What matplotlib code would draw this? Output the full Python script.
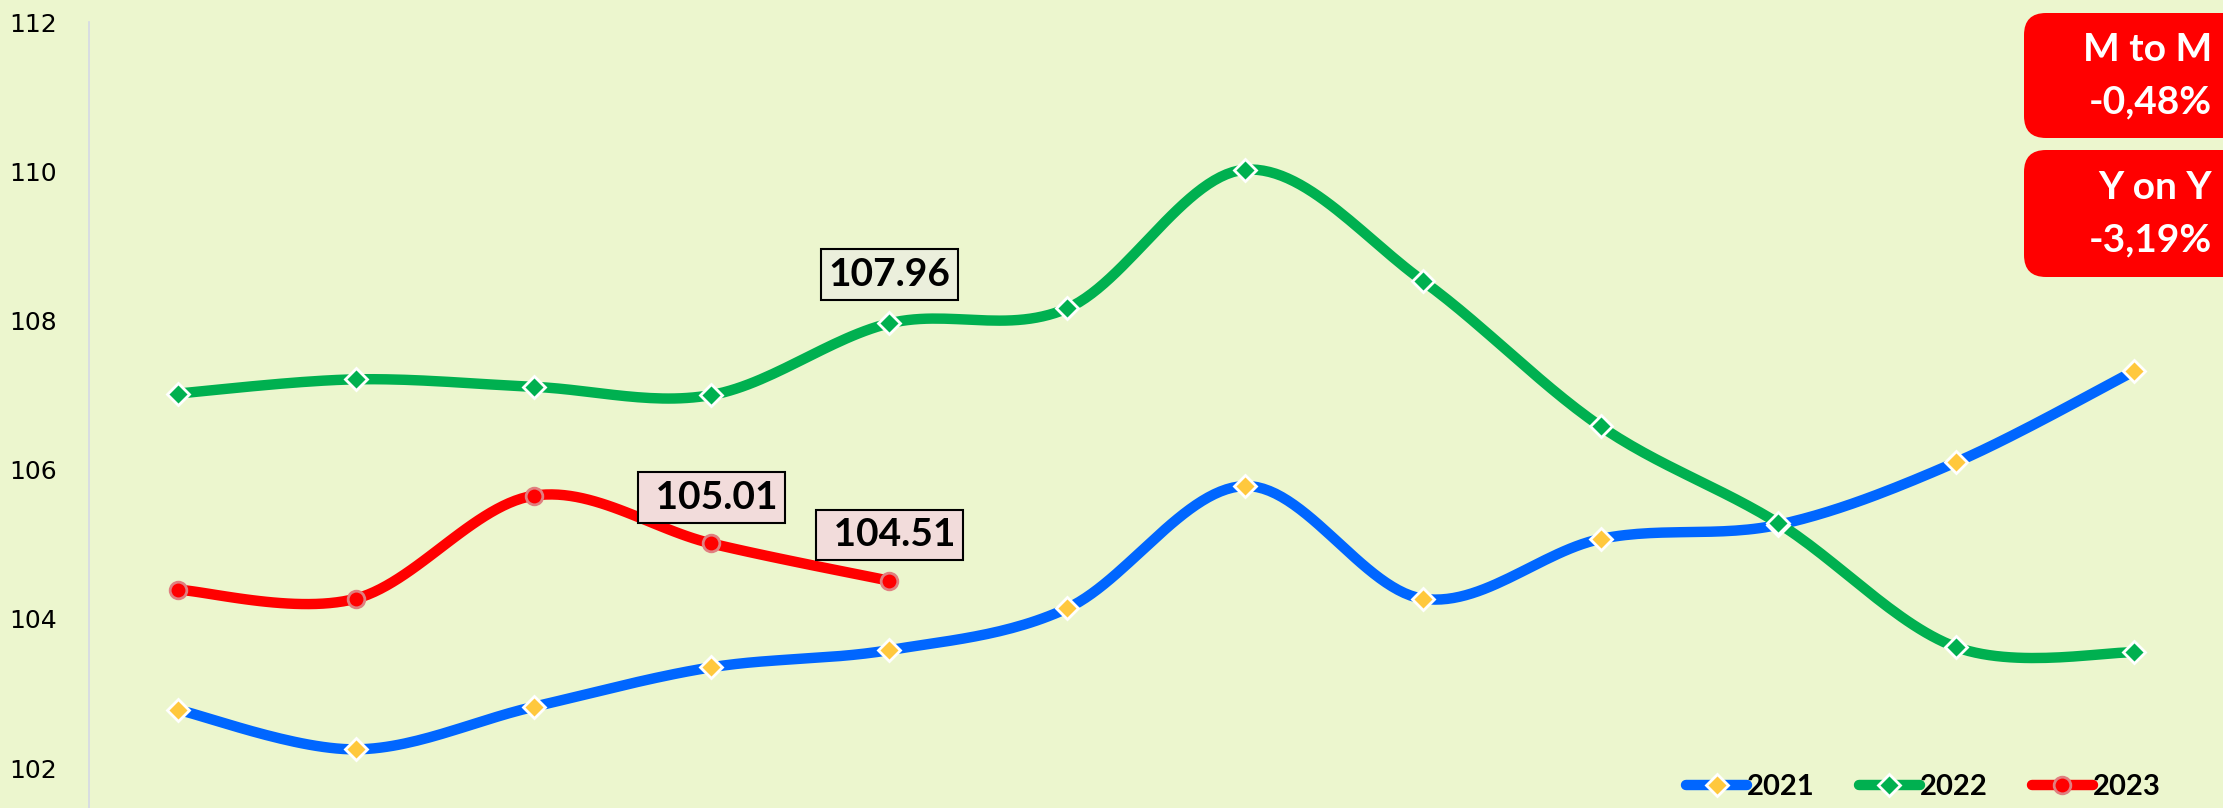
import numpy as np
import matplotlib.pyplot as plt
import matplotlib.transforms as mtransforms
from matplotlib.patches import FancyBboxPatch

months = list(range(12))
y2021 = [102.78, 102.25, 102.82, 103.35, 103.58, 104.14, 105.78, 104.27, 105.07, 105.26, 106.10, 107.32]
y2022 = [107.02, 107.21, 107.11, 107.00, 107.96, 108.16, 110.02, 108.53, 106.58, 105.28, 103.62, 103.55]
y2023 = [104.39, 104.27, 105.65, 105.01, 104.51]
labels2023 = {3: "105.01", 4: "104.51"}
labels2022 = {4: "107.96"}
yticks = [102, 104, 106, 108, 110, 112]

BG = "#ECF6CE"
W, H = 2223, 808


def smooth(x, y, n=30):
    # excel-like smoothed line (catmull-rom bezier)
    x = np.asarray(x, float)
    y = np.asarray(y, float)
    px = np.concatenate([[x[0]], x, [x[-1]]])
    py = np.concatenate([[y[0]], y, [y[-1]]])
    xs, ys = [], []
    t = np.linspace(0, 1, n)
    for i in range(1, len(px) - 2):
        p0 = np.array([px[i], py[i]])
        p3 = np.array([px[i + 1], py[i + 1]])
        p1 = p0 + (np.array([px[i + 1], py[i + 1]]) - np.array([px[i - 1], py[i - 1]])) / 6
        p2 = p3 - (np.array([px[i + 2], py[i + 2]]) - np.array([px[i], py[i]])) / 6
        b = ((1 - t) ** 3)[:, None] * p0 + (3 * (1 - t) ** 2 * t)[:, None] * p1 \
            + (3 * (1 - t) * t ** 2)[:, None] * p2 + (t ** 3)[:, None] * p3
        xs.extend(b[:, 0])
        ys.extend(b[:, 1])
    return xs, ys


fig = plt.figure(figsize=(W / 100, H / 100), dpi=100, facecolor=BG)
ax = fig.add_axes([89 / W, 0, 1 - 89 / W, 1 - 22 / H])
ax.set_facecolor(BG)

series = [
    ("2021", y2021, "#0066FF", "D", "#FFC83D", "white"),
    ("2022", y2022, "#00B050", "D", "#00B050", "white"),
    ("2023", y2023, "#FF0000", "o", "#FF0000", "#E07F80"),
]
for name, vals, col, mk, mfc, mec in series:
    xs = months[:len(vals)]
    sx, sy = smooth(xs, vals)
    ax.plot(sx, sy, color=col, lw=7.5, solid_capstyle="round", zorder=2)
    ax.plot(xs, vals, ls="none", marker=mk, ms=11 if mk == "D" else 12,
            mfc=mfc, mec=mec, mew=2, zorder=3)
    ax.plot([], [], color=col, lw=7.5, marker=mk, ms=11 if mk == "D" else 12,
            mfc=mfc, mec=mec, mew=2, solid_capstyle="round", label=name)

font = "Lato"
for i, txt in labels2022.items():
    ax.annotate(txt, (i, y2022[i]), xytext=(0, 35), textcoords="offset points",
                ha="center", va="center", fontsize=28, fontweight="bold", family=font,
                bbox=dict(boxstyle="square,pad=0.2", fc="#EBEFDC", ec="black", lw=1.5), zorder=5)
for i, txt in labels2023.items():
    ax.annotate(" " + txt, (i, y2023[i]), xytext=(0, 33), textcoords="offset points",
                ha="center", va="center", fontsize=28, fontweight="bold", family=font,
                bbox=dict(boxstyle="square,pad=0.2", fc="#F2DCDB", ec="black", lw=1.5), zorder=5)

ax.set_xlim(-0.5, 11.5)
ax.set_ylim(102 - 40 / 74.6, 112)
ax.set_yticks(yticks)
ax.set_xticks([])
ax.tick_params(axis="y", length=0, pad=23, labelsize=18, labelcolor="black")
for s in ["top", "right", "bottom"]:
    ax.spines[s].set_visible(False)
ax.spines["left"].set_color("#D4D8E6")
ax.spines["left"].set_linewidth(1.2)

leg = ax.legend(loc="lower right", bbox_to_anchor=(0.979, -0.012), ncol=3, frameon=False,
                prop=dict(family=font, weight="bold", size=21), handlelength=2.1,
                handletextpad=0.0, columnspacing=1.5, borderaxespad=0.2)

# red summary boxes at top right
ident = mtransforms.IdentityTransform()
for top, bot, l1, l2 in [(795, 670, "M to M", "-0,48%"), (658, 531, "Y on Y", "-3,19%")]:
    box = FancyBboxPatch((2024 + 20, bot + 20), 260, top - bot - 40,
                         boxstyle="round,pad=20,rounding_size=22",
                         fc="#FF0000", ec="none", transform=ident, zorder=10)
    fig.add_artist(box)
    mid = (top + bot) / 2
    fig.text(2212 / W, (mid + 26) / H, l1, ha="right", va="center", color="white",
             fontsize=28, fontweight="bold", family=font, zorder=11)
    fig.text(2212 / W, (mid - 26) / H, l2, ha="right", va="center", color="white",
             fontsize=28, fontweight="bold", family=font, zorder=11)

fig.savefig("out.png", dpi=100, facecolor=BG)
